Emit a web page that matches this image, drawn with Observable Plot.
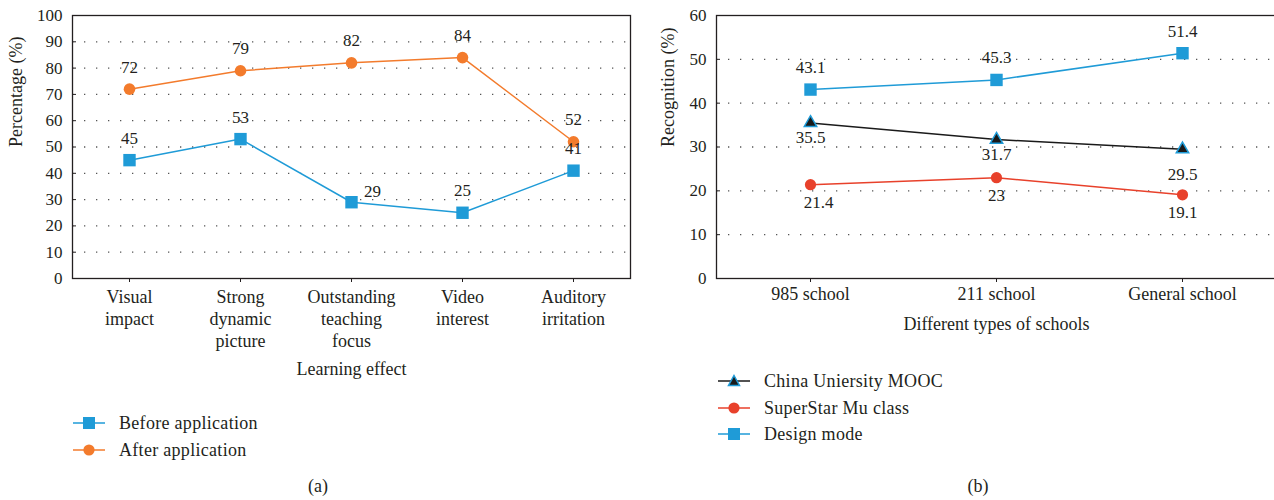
<!DOCTYPE html>
<html><head><meta charset="utf-8">
<script src="https://cdn.jsdelivr.net/npm/d3@7"></script>
<script src="https://cdn.jsdelivr.net/npm/@observablehq/plot@0.6"></script>
<style>
html,body{margin:0;padding:0;background:#fff;overflow:hidden;}
#wrap{position:relative;width:1274px;height:500px;font-family:"Liberation Serif",serif;color:#231f20;font-size:18px;}
.leg{position:absolute;display:flex;align-items:center;height:24px;line-height:24px;white-space:nowrap;letter-spacing:0.3px;}
.leg svg{margin-right:14px;}
.cap{position:absolute;transform:translateX(-50%);font-size:18px;}
</style></head><body><div id="wrap"></div>
<script>
// ---- Panel (a) data ----
const effects = ["Visual impact", "Strong dynamic picture", "Outstanding teaching focus", "Video interest", "Auditory irritation"];
const effectTickLabels = ["Visual\nimpact", "Strong\ndynamic\npicture", "Outstanding\nteaching\nfocus", "Video\ninterest", "Auditory\nirritation"];
const beforeApplication = [45, 53, 29, 25, 41];
const afterApplication = [72, 79, 82, 84, 52];
const yTicksA = [0, 10, 20, 30, 40, 50, 60, 70, 80, 90, 100];

// ---- Panel (b) data ----
const schools = ["985 school", "211 school", "General school"];
const chinaMooc = [35.5, 31.7, 29.5];
const superStar = [21.4, 23, 19.1];
const designMode = [43.1, 45.3, 51.4];
const yTicksB = [0, 10, 20, 30, 40, 50, 60];

const FONT = '"Liberation Serif", serif';
const INK = "#231f20";
const BLUE = "#1f9bd7";
const ORANGE = "#f37b2c";
const RED = "#e8412b";
const BLACK = "#1a1a1a";
const GRID = {stroke: "#555", strokeWidth: 1.3, strokeDasharray: "1.3 10.7"};
const WORD = {fontSize: 18, letterSpacing: 0.3};

const wrap = document.getElementById("wrap");

// ---------- Panel (a) ----------
const before = effects.map((c, i) => ({cat: c, v: beforeApplication[i]}));
const after = effects.map((c, i) => ({cat: c, v: afterApplication[i]}));
const tickLabelA = new Map(effects.map((c, i) => [c, effectTickLabels[i]]));
const innerA = yTicksA.filter(t => t > 0 && t < 100);

const plotA = Plot.plot({
  width: 640, height: 385,
  marginTop: 15, marginBottom: 107, marginLeft: 72, marginRight: 10,
  style: {fontFamily: FONT, fontSize: "17px", color: INK, background: "transparent"},
  x: {type: "point", domain: effects, padding: 0.5},
  y: {domain: [0, 100]},
  marks: [
    Plot.ruleY(innerA, GRID),
    Plot.ruleY(innerA, {stroke: INK, insetRight: 554}),
    Plot.frame({stroke: INK, strokeWidth: 1.3}),
    Plot.axisY({ticks: yTicksA, tickSize: 0, tickPadding: 10, label: null}),
    Plot.axisX({tickSize: 4, tickPadding: 5, tickFormat: d => tickLabelA.get(d), lineAnchor: "top", lineHeight: 1.22, label: null, ...WORD}),
    Plot.text(["Learning effect"], {frameAnchor: "bottom", dy: 96, text: d => d, ...WORD}),
    Plot.text(["Percentage (%)"], {frameAnchor: "left", rotate: -90, dx: -56, text: d => d, ...WORD}),
    Plot.line(after, {x: "cat", y: "v", stroke: ORANGE, strokeWidth: 1.5}),
    Plot.line(before, {x: "cat", y: "v", stroke: BLUE, strokeWidth: 1.5}),
    Plot.dot(after, {x: "cat", y: "v", r: 5.8, fill: ORANGE}),
    Plot.dot(before, {x: "cat", y: "v", symbol: "square", r: 7, fill: BLUE}),
    Plot.text(after, {x: "cat", y: "v", text: d => String(d.v), dy: -22}),
    Plot.text(before, {filter: d => d.cat !== "Outstanding teaching focus", x: "cat", y: "v", text: d => String(d.v), dy: -22}),
    Plot.text(before, {filter: d => d.cat === "Outstanding teaching focus", x: "cat", y: "v", text: d => String(d.v), dx: 21, dy: -11})
  ]
});
plotA.style.position = "absolute";
plotA.style.left = "0px";
plotA.style.top = "0px";
wrap.appendChild(plotA);

// ---------- Panel (b) ----------
const mooc = schools.map((s, i) => ({s, v: chinaMooc[i]}));
const star = schools.map((s, i) => ({s, v: superStar[i]}));
const design = schools.map((s, i) => ({s, v: designMode[i]}));
const innerB = yTicksB.filter(t => t > 0 && t < 60);

const plotB = Plot.plot({
  width: 640, height: 340,
  marginTop: 15, marginBottom: 62, marginLeft: 76, marginRight: 4,
  style: {fontFamily: FONT, fontSize: "17px", color: INK, background: "transparent"},
  x: {type: "point", domain: schools, padding: 0.5},
  y: {domain: [0, 60]},
  marks: [
    Plot.ruleY(innerB, GRID),
    Plot.ruleY(innerB, {stroke: INK, insetRight: 556}),
    Plot.frame({stroke: INK, strokeWidth: 1.3}),
    Plot.axisY({ticks: yTicksB, tickSize: 0, tickPadding: 10, label: null}),
    Plot.axisX({tickSize: 4, tickPadding: 5, label: null, ...WORD}),
    Plot.text(["Different types of schools"], {frameAnchor: "bottom", dy: 51, text: d => d, ...WORD}),
    Plot.text(["Recognition (%)"], {frameAnchor: "left", rotate: -90, dx: -48, text: d => d, ...WORD}),
    Plot.line(design, {x: "s", y: "v", stroke: BLUE, strokeWidth: 1.5}),
    Plot.line(mooc, {x: "s", y: "v", stroke: BLACK, strokeWidth: 1.5}),
    Plot.line(star, {x: "s", y: "v", stroke: RED, strokeWidth: 1.5}),
    Plot.dot(design, {x: "s", y: "v", symbol: "square", r: 7, fill: BLUE}),
    Plot.dot(mooc, {x: "s", y: "v", symbol: "triangle", r: 4.6, fill: BLACK, stroke: BLUE, strokeWidth: 1.5}),
    Plot.dot(star, {x: "s", y: "v", r: 5.6, fill: RED}),
    Plot.text(design, {x: "s", y: "v", text: d => String(d.v), dy: -22}),
    Plot.text(mooc, {filter: d => d.s !== "General school", x: "s", y: "v", text: d => String(d.v), dy: 15}),
    Plot.text(mooc, {filter: d => d.s === "General school", x: "s", y: "v", text: d => String(d.v), dy: 25}),
    Plot.text(star, {filter: d => d.s === "985 school", x: "s", y: "v", text: d => String(d.v), dx: 8, dy: 18}),
    Plot.text(star, {filter: d => d.s !== "985 school", x: "s", y: "v", text: d => String(d.v), dy: 18})
  ]
});
plotB.style.position = "absolute";
plotB.style.left = "640px";
plotB.style.top = "0px";
wrap.appendChild(plotB);

// ---------- Legends ----------
function sample(color, shape, edge) {
  let m = "";
  if (shape === "square") m = `<rect x="10" y="6" width="12" height="12" fill="${color}"/>`;
  if (shape === "circle") m = `<circle cx="16" cy="12" r="5.6" fill="${color}"/>`;
  if (shape === "triangle") m = `<path d="M16,6.5 L21.5,16.5 L10.5,16.5 Z" fill="${color}" stroke="${edge}" stroke-width="1.5"/>`;
  return `<svg width="32" height="24"><line x1="0" x2="32" y1="12" y2="12" stroke="${color}" stroke-width="1.5"/>${m}</svg>`;
}
function legend(items, left, tops) {
  items.forEach((it, i) => {
    const d = document.createElement("div");
    d.className = "leg";
    d.style.left = left + "px";
    d.style.top = (tops[i] - 12) + "px";
    d.innerHTML = sample(it.color, it.shape, it.edge) + `<span>${it.label}</span>`;
    wrap.appendChild(d);
  });
}
legend([
  {label: "Before application", color: BLUE, shape: "square"},
  {label: "After application", color: ORANGE, shape: "circle"}
], 73, [423, 450]);
legend([
  {label: "China Uniersity MOOC", color: BLACK, shape: "triangle", edge: BLUE},
  {label: "SuperStar Mu class", color: RED, shape: "circle"},
  {label: "Design mode", color: BLUE, shape: "square"}
], 718, [381, 408, 434]);

// ---------- Captions ----------
[["(a)", 318], ["(b)", 978]].forEach(([t, x]) => {
  const d = document.createElement("div");
  d.className = "cap";
  d.style.left = x + "px";
  d.style.top = "476px";
  d.textContent = t;
  wrap.appendChild(d);
});
</script>
</body></html>
